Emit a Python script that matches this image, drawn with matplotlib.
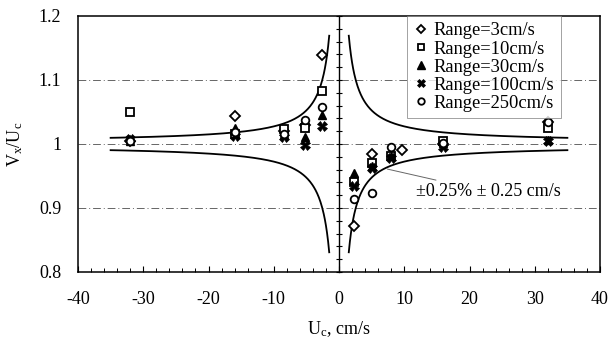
import numpy as np
import matplotlib
matplotlib.use("Agg")
import matplotlib.pyplot as plt

plt.rcParams["font.family"] = ["Liberation Serif", "DejaVu Serif"]
plt.rcParams["mathtext.fontset"] = "custom"
plt.rcParams["mathtext.rm"] = "Liberation Serif"
plt.rcParams["mathtext.it"] = "Liberation Serif:italic"
plt.rcParams["axes.unicode_minus"] = False

# Calibration velocities (cm/s) at which each range was tested
uc = [-32, -16, -8.4, -5.2, -2.6, 2.3, 5.0, 8.0, 9.6, 16, 32]

# Measured velocity ratio Vx/Uc per probe range (None = not measured)
range_3 = [1.005, 1.044, 1.020, 1.030, 1.139, 0.872, 0.985, None, 0.990, 1.000, 1.035]
range_10 = [1.050, 1.016, 1.023, 1.025, 1.083, 0.940, 0.970, 0.982, None, 1.004, 1.025]
range_30 = [1.004, 1.025, 1.015, 1.011, 1.045, 0.955, 0.966, 0.982, None, 1.001, 1.006]
range_100 = [1.008, 1.013, 1.011, 0.998, 1.028, 0.935, 0.962, 0.978, None, 0.996, 1.004]
range_250 = [1.004, 1.018, 1.016, 1.037, 1.058, 0.914, 0.923, 0.995, None, 1.002, 1.034]

series_labels = ["Range=3cm/s", "Range=10cm/s", "Range=30cm/s",
                 "Range=100cm/s", "Range=250cm/s"]

# Accuracy envelope: +/-0.25% of reading +/- 0.25 cm/s
pct_err = 0.0025
abs_err = 0.25
u_min, u_max = 1.5, 35.0

fig = plt.figure(figsize=(6.13, 3.4), dpi=100)
ax = fig.add_axes([78 / 613, 68 / 340, 522 / 613, 256 / 340])

ax.set_xlim(-40, 40)
ax.set_ylim(0.8, 1.2)

# dash-dot horizontal grid
for yv in [0.9, 1.0, 1.1]:
    ax.axhline(yv, color="#666666", lw=0.7, ls=(0, (8, 3, 1, 3)), zorder=1)

# envelope curves
u_pos = np.linspace(u_min, u_max, 400)
for sign in (-1, 1):
    u = sign * u_pos
    band = pct_err + abs_err / np.abs(u)
    ax.plot(u, 1 + band, color="black", lw=1.3, zorder=2)
    ax.plot(u, 1 - band, color="black", lw=1.3, zorder=2)

def pts(vals):
    xs = [x for x, v in zip(uc, vals) if v is not None]
    ys = [v for v in vals if v is not None]
    return xs, ys

styles = [
    dict(marker="D", ms=5.0, mfc="white", mec="black", mew=1.3),
    dict(marker="s", ms=5.5, mfc="white", mec="black", mew=1.3),
    dict(marker="^", ms=6.0, mfc="black", mec="black", mew=1.0),
    dict(marker="X", ms=6.5, mfc="black", mec="black", mew=0.5),
    dict(marker="o", ms=5.5, mfc="white", mec="black", mew=1.3),
]
for vals, lab, st in zip([range_3, range_10, range_30, range_100, range_250],
                         series_labels, styles):
    xs, ys = pts(vals)
    ax.plot(xs, ys, ls="none", label=lab, zorder=4, **st)

# envelope annotation
ax.annotate("±0.25% ± 0.25 cm/s", xy=(7.0, 1 - pct_err - abs_err / 7.0),
            xytext=(11.8, 0.925), fontsize=13, va="center", ha="left",
            arrowprops=dict(arrowstyle="-", color="#666666", lw=0.7,
                            shrinkA=2, shrinkB=2), zorder=5)

# axes styling
for sp in ax.spines.values():
    sp.set_linewidth(1.1)
ax.set_xticks(np.arange(-40, 41, 10))
ax.set_xticks(np.arange(-40, 41, 2), minor=True)
ax.set_yticks([0.8, 0.9, 1.0, 1.1, 1.2])
ax.set_yticklabels(["0.8", "0.9", "1", "1.1", "1.2"])
ax.tick_params(axis="x", which="major", direction="in", length=4, width=0.8,
               pad=14, labelsize=13)
ax.tick_params(axis="x", which="minor", direction="in", length=3, width=0.7)
ax.tick_params(axis="y", which="both", length=0, pad=12, labelsize=13)

ax.set_xlabel(r"U$_\mathrm{c}$, cm/s", fontsize=13, labelpad=8)
ax.set_ylabel(r"V$_\mathrm{x}$/U$_\mathrm{c}$", fontsize=13, labelpad=10)

# vertical axis through Uc = 0 with crossing ticks
ax0 = ax.twinx()
ax0.set_ylim(0.8, 1.2)
for name in ["left", "top", "bottom"]:
    ax0.spines[name].set_visible(False)
ax0.spines["right"].set_position(("data", 0))
ax0.spines["right"].set_linewidth(1.0)
ax0.set_yticks(np.arange(0.8, 1.2001, 0.02))
ax0.tick_params(axis="y", direction="inout", length=5, width=0.8,
                labelright=False)
ax0.patch.set_visible(False)

leg = ax.legend(loc="upper left", bbox_to_anchor=(0.63, 1.0),
                borderaxespad=0, frameon=True, fancybox=False,
                fontsize=13.3, handlelength=0.8, handletextpad=0.3,
                labelspacing=0.06, borderpad=0.35, markerscale=0.85)
leg.get_frame().set_edgecolor("#777777")
leg.get_frame().set_linewidth(0.6)
leg.set_zorder(10)

fig.savefig("out.png", dpi=100)
